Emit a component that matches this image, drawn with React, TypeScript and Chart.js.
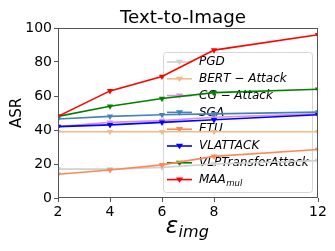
import React, { useEffect, useRef } from "react";
import { Chart, registerables } from "chart.js";
Chart.register(...registerables);

const epsilons = [2, 4, 6, 8, 12];
const xTickValues = [2, 4, 6, 8, 12];
const yTickValues = [0, 20, 40, 60, 80, 100];
const seriesNames = ["PGD", "BERT − Attack", "CG − Attack", "SGA", "ETU", "VLATTACK", "VLPTransferAttack", "MAA"];
const seriesColors = ["#d0d0d0", "#f0bb88", "#d98fe0", "#4682b4", "#ff8657", "#0000ff", "#008000", "#ff0000"];
const pgd = [17, 17, 18, 20, 22];
const bertAttack = [39, 39, 39, 39, 39];
const cgAttack = [42, 44.5, 45.5, 47.5, 49.5];
const sga = [46.5, 48, 49, 49.5, 50.5];
const etu = [14, 16.5, 19.5, 24.5, 28.5];
const vlattack = [42, 43, 44.5, 46, 49];
const vlpTransfer = [48, 54, 58.5, 62, 64];
const maaMul = [48, 63, 71.5, 87, 96];
const seriesValues = [pgd, bertAttack, cgAttack, sga, etu, vlattack, vlpTransfer, maaMul];

const FONT = "'DejaVu Sans', sans-serif";

function tri(ctx: CanvasRenderingContext2D, x: number, y: number, r: number) {
  ctx.beginPath();
  ctx.moveTo(x - r, y - r * 0.6);
  ctx.lineTo(x + r, y - r * 0.6);
  ctx.lineTo(x, y + r * 0.9);
  ctx.closePath();
  ctx.fill();
}

const decorPlugin = {
  id: "decor",
  beforeDatasetsDraw(chart: any) {
    const ctx = chart.ctx as CanvasRenderingContext2D;
    const lx = 163, ly = 52, lw = 149, lh = 140;
    ctx.save();
    ctx.fillStyle = "rgba(255,255,255,0.8)";
    ctx.strokeStyle = "#d6d6d6";
    ctx.lineWidth = 1;
    ctx.beginPath();
    (ctx as any).roundRect(lx + 0.5, ly + 0.5, lw, lh, 3);
    ctx.fill();
    ctx.stroke();
    seriesNames.forEach((name, i) => {
      const y = 62 + i * 16.8;
      ctx.strokeStyle = seriesColors[i];
      ctx.fillStyle = seriesColors[i];
      ctx.lineWidth = 1.6;
      ctx.beginPath();
      ctx.moveTo(167, y);
      ctx.lineTo(192, y);
      ctx.stroke();
      tri(ctx, 179.5, y, 3.6);
      ctx.fillStyle = "#000";
      ctx.textAlign = "left";
      ctx.textBaseline = "middle";
      ctx.font = `italic 12px ${FONT}`;
      ctx.fillText(name, 199, y);
      if (i === seriesNames.length - 1) {
        const w = ctx.measureText(name).width;
        ctx.font = `italic 8.5px ${FONT}`;
        ctx.fillText("mul", 199 + w + 0.5, y + 4);
      }
    });
    ctx.restore();
  },
  afterDraw(chart: any) {
    const ctx = chart.ctx as CanvasRenderingContext2D;
    const a = chart.chartArea;
    ctx.save();
    ctx.strokeStyle = "#555";
    ctx.lineWidth = 1;
    ctx.strokeRect(a.left + 0.5, a.top + 0.5, a.right - a.left - 1, a.bottom - a.top - 1);
    const cx = (a.left + a.right) / 2;
    ctx.fillStyle = "#000";
    ctx.textAlign = "center";
    ctx.textBaseline = "alphabetic";
    ctx.font = `18.3px ${FONT}`;
    ctx.fillText("Text-to-Image", cx - 5, 23);
    ctx.save();
    ctx.translate(21, (a.top + a.bottom) / 2);
    ctx.rotate(-Math.PI / 2);
    ctx.font = `15px ${FONT}`;
    ctx.textAlign = "center";
    ctx.fillText("ASR", 0, 0);
    ctx.restore();
    ctx.font = `italic 23px ${FONT}`;
    const w1 = ctx.measureText("ε").width;
    ctx.font = `italic 16px ${FONT}`;
    const w2 = ctx.measureText("img").width;
    const start = cx - 1 - (w1 + w2) / 2;
    ctx.textAlign = "left";
    ctx.font = `italic 23px ${FONT}`;
    ctx.fillText("ε", start, 233);
    ctx.font = `italic 16px ${FONT}`;
    ctx.fillText("img", start + w1 + 0.5, 237);
    ctx.restore();
  },
};

export default function App() {
  const ref = useRef<HTMLCanvasElement>(null);
  useEffect(() => {
    document.body.style.margin = "0";
    const chart = new Chart(ref.current as HTMLCanvasElement, {
      type: "line",
      data: {
        datasets: seriesNames.map((name, i) => ({
          label: name,
          data: epsilons.map((x, j) => ({ x, y: seriesValues[i][j] })),
          borderColor: seriesColors[i],
          backgroundColor: seriesColors[i],
          borderWidth: 1.6,
          pointStyle: "triangle",
          rotation: 180,
          pointRadius: 3.6,
          pointBorderWidth: 0,
          tension: 0,
          clip: 0,
          order: seriesNames.length - i,
        })),
      },
      options: {
        animation: false,
        responsive: false,
        maintainAspectRatio: false,
        layout: { padding: { top: 28, right: 17, left: 0, bottom: 0 } },
        plugins: { legend: { display: false }, title: { display: false }, tooltip: { enabled: false } },
        scales: {
          x: {
            type: "linear",
            min: 2,
            max: 12,
            afterBuildTicks: (s: any) => { s.ticks = xTickValues.map((v) => ({ value: v })); },
            afterFit: (s: any) => { s.height = 53; },
            grid: { drawOnChartArea: false, drawTicks: true, tickLength: 4, color: "#555" },
            border: { display: false },
            ticks: { color: "#000", font: { family: FONT, size: 14 }, padding: 2, maxRotation: 0, autoSkip: false },
          },
          y: {
            type: "linear",
            min: 0,
            max: 100,
            afterBuildTicks: (s: any) => { s.ticks = yTickValues.map((v) => ({ value: v })); },
            afterFit: (s: any) => { s.width = 58; },
            grid: { drawOnChartArea: false, drawTicks: true, tickLength: 4, color: "#555" },
            border: { display: false },
            ticks: { color: "#000", font: { family: FONT, size: 14 }, padding: 2 },
          },
        },
      },
      plugins: [decorPlugin],
    } as any);
    return () => chart.destroy();
  }, []);
  return (
    <div style={{ position: "absolute", left: 0, top: 0, width: 335, height: 251 }}>
      <canvas ref={ref} width={335} height={251} style={{ width: 335, height: 251 }} />
    </div>
  );
}
